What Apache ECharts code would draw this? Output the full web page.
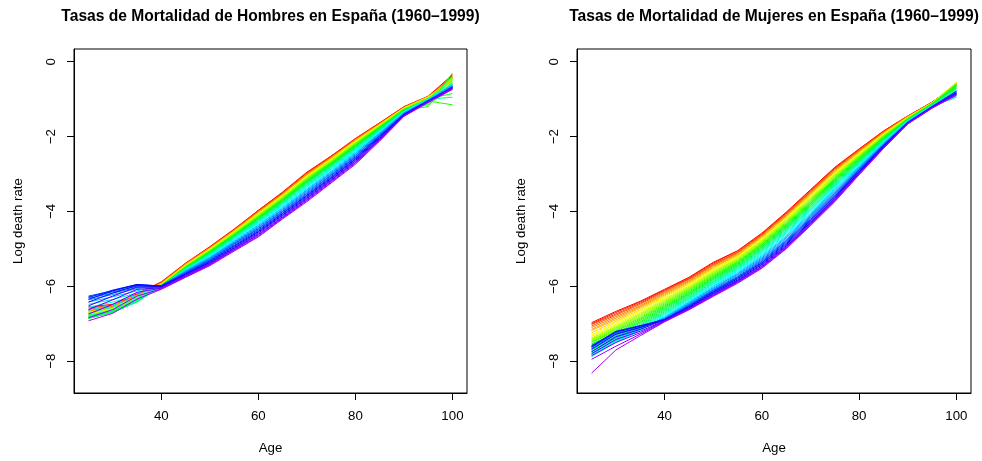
<!DOCTYPE html>
<html>
<head>
<meta charset="utf-8">
<script src="https://cdn.jsdelivr.net/npm/echarts@6/dist/echarts.min.js"></script>
<style>
  html, body { margin: 0; padding: 0; background: #fff; }
  #chart { width: 982px; height: 461px; }
</style>
</head>
<body>
<div id="chart"></div>
<script>
// Ages at which each yearly curve is sampled
const ages = [25, 30, 35, 40, 45, 50, 55, 60, 65, 70, 75, 80, 85, 90, 95, 100];

// Calendar years (one curve each)
const years = [];
for (let y = 1960; y <= 1999; y++) years.push(y);

// Tick labels
const xTicks = [40, 60, 80, 100];
const yTicks = [0, -2, -4, -6, -8];

// Log death rates, men (rows: 1960..1999, columns: ages)
const hombres = [
  [-6.55,-6.48,-6.20,-5.88,-5.38,-4.94,-4.47,-3.97,-3.48,-2.95,-2.52,-2.05,-1.63,-1.20,-0.92,-0.35],
  [-6.62,-6.52,-6.22,-5.90,-5.40,-4.95,-4.49,-3.97,-3.50,-2.97,-2.52,-2.07,-1.64,-1.21,-0.94,-0.42],
  [-6.58,-6.50,-6.24,-5.89,-5.39,-4.96,-4.48,-3.99,-3.50,-2.97,-2.54,-2.06,-1.65,-1.21,-0.93,-0.38],
  [-6.64,-6.55,-6.23,-5.92,-5.41,-4.97,-4.50,-4.00,-3.52,-3.00,-2.55,-2.08,-1.65,-1.22,-0.94,-0.45],
  [-6.68,-6.53,-6.26,-5.91,-5.40,-4.97,-4.51,-4.01,-3.53,-3.00,-2.56,-2.09,-1.66,-1.22,-0.95,-0.40],
  [-6.66,-6.56,-6.25,-5.92,-5.42,-4.98,-4.51,-4.02,-3.54,-3.02,-2.57,-2.10,-1.67,-1.23,-0.93,-0.48],
  [-6.70,-6.57,-6.27,-5.93,-5.43,-4.99,-4.53,-4.04,-3.55,-3.03,-2.58,-2.10,-1.67,-1.23,-0.95,-0.44],
  [-6.72,-6.56,-6.28,-5.93,-5.43,-5.00,-4.53,-4.04,-3.57,-3.05,-2.60,-2.12,-1.68,-1.24,-0.94,-0.52],
  [-6.69,-6.58,-6.27,-5.95,-5.44,-5.00,-4.55,-4.06,-3.57,-3.05,-2.60,-2.13,-1.69,-1.24,-0.96,-0.46],
  [-6.74,-6.60,-6.29,-5.94,-5.45,-5.02,-4.55,-4.07,-3.59,-3.07,-2.62,-2.14,-1.69,-1.25,-0.95,-0.55],
  [-6.72,-6.59,-6.30,-5.95,-5.45,-5.02,-4.56,-4.08,-3.60,-3.08,-2.63,-2.15,-1.70,-1.25,-0.95,-0.50],
  [-6.76,-6.62,-6.31,-5.96,-5.46,-5.03,-4.57,-4.09,-3.61,-3.10,-2.64,-2.16,-1.71,-1.25,-0.97,-0.58],
  [-6.78,-6.63,-6.33,-5.96,-5.47,-5.04,-4.59,-4.11,-3.63,-3.11,-2.66,-2.18,-1.72,-1.26,-0.96,-0.45],
  [-6.77,-6.65,-6.34,-5.97,-5.48,-5.05,-4.60,-4.12,-3.64,-3.13,-2.67,-2.19,-1.73,-1.27,-0.98,-0.62],
  [-6.80,-6.64,-6.35,-5.97,-5.48,-5.06,-4.60,-4.14,-3.66,-3.14,-2.69,-2.20,-1.74,-1.27,-1.02,-0.40],
  [-6.82,-6.66,-6.36,-5.98,-5.49,-5.07,-4.62,-4.15,-3.67,-3.16,-2.70,-2.22,-1.75,-1.28,-1.15,-0.70],
  [-6.81,-6.68,-6.38,-5.98,-5.50,-5.08,-4.63,-4.16,-3.69,-3.18,-2.72,-2.23,-1.76,-1.28,-1.05,-1.15],
  [-6.84,-6.67,-6.39,-5.99,-5.50,-5.09,-4.64,-4.18,-3.70,-3.19,-2.73,-2.25,-1.77,-1.29,-1.20,-0.30],
  [-6.86,-6.69,-6.40,-5.99,-5.51,-5.10,-4.65,-4.19,-3.72,-3.21,-2.75,-2.26,-1.78,-1.30,-0.99,-0.85],
  [-6.85,-6.70,-6.41,-6.00,-5.52,-5.11,-4.66,-4.21,-3.73,-3.22,-2.76,-2.28,-1.79,-1.30,-1.12,-0.55],
  [-6.84,-6.70,-6.42,-6.00,-5.52,-5.12,-4.67,-4.22,-3.75,-3.24,-2.78,-2.29,-1.80,-1.31,-0.99,-0.60],
  [-6.82,-6.68,-6.40,-6.01,-5.53,-5.13,-4.69,-4.24,-3.77,-3.26,-2.80,-2.31,-1.81,-1.32,-1.00,-0.95],
  [-6.78,-6.64,-6.38,-6.00,-5.54,-5.15,-4.70,-4.26,-3.79,-3.29,-2.82,-2.33,-1.83,-1.32,-1.01,-0.50],
  [-6.72,-6.56,-6.34,-6.01,-5.54,-5.16,-4.72,-4.28,-3.82,-3.31,-2.85,-2.35,-1.84,-1.33,-0.99,-0.62],
  [-6.64,-6.50,-6.30,-6.00,-5.55,-5.18,-4.74,-4.30,-3.84,-3.34,-2.87,-2.37,-1.86,-1.34,-1.01,-0.58],
  [-6.56,-6.42,-6.24,-6.00,-5.56,-5.19,-4.75,-4.32,-3.86,-3.36,-2.89,-2.39,-1.87,-1.35,-1.01,-0.64],
  [-6.48,-6.35,-6.18,-5.99,-5.57,-5.21,-4.78,-4.35,-3.89,-3.39,-2.92,-2.41,-1.89,-1.36,-1.02,-0.60],
  [-6.42,-6.28,-6.12,-5.99,-5.58,-5.23,-4.80,-4.37,-3.91,-3.42,-2.94,-2.44,-1.91,-1.37,-1.02,-0.66],
  [-6.36,-6.22,-6.06,-5.98,-5.60,-5.24,-4.82,-4.40,-3.94,-3.44,-2.97,-2.46,-1.92,-1.37,-1.03,-0.63],
  [-6.32,-6.18,-6.03,-5.98,-5.61,-5.26,-4.84,-4.42,-3.96,-3.47,-2.99,-2.49,-1.94,-1.38,-1.03,-0.68],
  [-6.28,-6.15,-6.00,-5.98,-5.62,-5.28,-4.86,-4.45,-3.99,-3.50,-3.02,-2.51,-1.96,-1.39,-1.04,-0.66],
  [-6.26,-6.12,-5.97,-5.99,-5.64,-5.30,-4.88,-4.47,-4.01,-3.53,-3.04,-2.54,-1.98,-1.40,-1.04,-0.70],
  [-6.30,-6.10,-5.95,-5.99,-5.65,-5.32,-4.91,-4.50,-4.04,-3.56,-3.07,-2.56,-1.99,-1.40,-1.05,-0.67],
  [-6.35,-6.12,-5.95,-6.00,-5.67,-5.34,-4.93,-4.53,-4.06,-3.58,-3.10,-2.59,-2.01,-1.41,-1.05,-0.71],
  [-6.42,-6.18,-5.98,-6.01,-5.68,-5.36,-4.96,-4.55,-4.09,-3.61,-3.12,-2.61,-2.03,-1.42,-1.06,-0.69],
  [-6.52,-6.26,-6.02,-6.02,-5.70,-5.38,-4.98,-4.58,-4.11,-3.64,-3.15,-2.64,-2.05,-1.43,-1.07,-0.72],
  [-6.62,-6.36,-6.08,-6.04,-5.72,-5.40,-5.00,-4.61,-4.14,-3.66,-3.17,-2.66,-2.07,-1.44,-1.07,-0.68],
  [-6.74,-6.48,-6.16,-6.05,-5.73,-5.41,-5.02,-4.63,-4.16,-3.69,-3.19,-2.69,-2.08,-1.45,-1.08,-0.73],
  [-6.84,-6.62,-6.26,-6.07,-5.75,-5.43,-5.04,-4.66,-4.18,-3.71,-3.22,-2.71,-2.10,-1.45,-1.08,-0.70],
  [-6.92,-6.72,-6.34,-6.08,-5.76,-5.45,-5.06,-4.68,-4.20,-3.74,-3.24,-2.74,-2.12,-1.46,-1.09,-0.74]
];

// Log death rates, women (rows: 1960..1999, columns: ages)
const mujeres = [
  [-6.97,-6.67,-6.40,-6.08,-5.76,-5.36,-5.05,-4.58,-4.02,-3.42,-2.82,-2.33,-1.85,-1.45,-1.08,-0.62],
  [-7.00,-6.70,-6.42,-6.10,-5.78,-5.38,-5.06,-4.60,-4.04,-3.44,-2.84,-2.34,-1.86,-1.45,-1.09,-0.65],
  [-7.02,-6.74,-6.45,-6.12,-5.80,-5.41,-5.09,-4.62,-4.06,-3.46,-2.86,-2.36,-1.87,-1.46,-1.08,-0.60],
  [-7.06,-6.77,-6.48,-6.14,-5.82,-5.43,-5.10,-4.63,-4.08,-3.48,-2.87,-2.37,-1.88,-1.46,-1.10,-0.64],
  [-7.10,-6.81,-6.52,-6.17,-5.85,-5.45,-5.12,-4.65,-4.10,-3.50,-2.89,-2.38,-1.89,-1.47,-1.09,-0.58],
  [-7.15,-6.85,-6.55,-6.20,-5.88,-5.48,-5.15,-4.67,-4.12,-3.52,-2.91,-2.40,-1.90,-1.47,-1.10,-0.60],
  [-7.18,-6.89,-6.58,-6.23,-5.90,-5.50,-5.17,-4.69,-4.14,-3.54,-2.93,-2.42,-1.91,-1.48,-1.10,-0.56],
  [-7.24,-6.93,-6.62,-6.26,-5.93,-5.53,-5.19,-4.71,-4.16,-3.56,-2.95,-2.43,-1.92,-1.48,-1.11,-0.62],
  [-7.30,-6.97,-6.65,-6.29,-5.95,-5.55,-5.21,-4.73,-4.18,-3.58,-2.97,-2.45,-1.93,-1.49,-1.10,-0.55],
  [-7.34,-7.01,-6.69,-6.32,-5.98,-5.58,-5.23,-4.75,-4.20,-3.61,-2.99,-2.46,-1.95,-1.49,-1.11,-0.60],
  [-7.38,-7.05,-6.72,-6.35,-6.00,-5.60,-5.25,-4.77,-4.22,-3.63,-3.01,-2.48,-1.96,-1.50,-1.10,-0.58],
  [-7.40,-7.08,-6.75,-6.38,-6.03,-5.62,-5.27,-4.79,-4.24,-3.65,-3.03,-2.50,-1.97,-1.50,-1.11,-0.62],
  [-7.43,-7.11,-6.78,-6.41,-6.05,-5.65,-5.29,-4.81,-4.27,-3.68,-3.05,-2.52,-1.98,-1.51,-1.12,-0.57],
  [-7.45,-7.14,-6.82,-6.44,-6.08,-5.67,-5.32,-4.84,-4.29,-3.70,-3.08,-2.53,-1.99,-1.52,-1.11,-0.63],
  [-7.48,-7.17,-6.85,-6.47,-6.10,-5.70,-5.34,-4.86,-4.32,-3.73,-3.10,-2.55,-2.01,-1.52,-1.12,-0.60],
  [-7.50,-7.20,-6.88,-6.50,-6.13,-5.72,-5.36,-4.88,-4.34,-3.75,-3.12,-2.57,-2.02,-1.53,-1.12,-0.65],
  [-7.54,-7.24,-6.91,-6.53,-6.16,-5.75,-5.38,-4.90,-4.36,-3.78,-3.14,-2.59,-2.03,-1.54,-1.13,-0.68],
  [-7.57,-7.27,-6.95,-6.56,-6.19,-5.77,-5.41,-4.93,-4.39,-3.80,-3.17,-2.61,-2.05,-1.54,-1.14,-0.62],
  [-7.60,-7.31,-6.98,-6.59,-6.21,-5.80,-5.43,-4.95,-4.41,-3.83,-3.19,-2.63,-2.06,-1.55,-1.13,-0.70],
  [-7.66,-7.35,-7.02,-6.62,-6.24,-5.82,-5.46,-4.98,-4.44,-3.85,-3.22,-2.65,-2.07,-1.55,-1.15,-0.66],
  [-7.70,-7.38,-7.05,-6.65,-6.27,-5.85,-5.48,-5.00,-4.46,-3.88,-3.24,-2.67,-2.09,-1.56,-1.15,-0.72],
  [-7.74,-7.41,-7.08,-6.68,-6.30,-5.88,-5.50,-5.03,-4.49,-3.91,-3.27,-2.69,-2.10,-1.57,-1.16,-0.76],
  [-7.78,-7.44,-7.11,-6.71,-6.32,-5.90,-5.53,-5.06,-4.52,-3.94,-3.30,-2.71,-2.12,-1.57,-1.17,-0.80],
  [-7.82,-7.47,-7.14,-6.74,-6.35,-5.93,-5.55,-5.09,-4.55,-3.96,-3.32,-2.73,-2.13,-1.58,-1.17,-0.88],
  [-7.86,-7.49,-7.16,-6.77,-6.37,-5.95,-5.58,-5.12,-4.58,-3.99,-3.35,-2.75,-2.15,-1.58,-1.18,-0.92],
  [-7.88,-7.50,-7.18,-6.80,-6.40,-5.98,-5.60,-5.15,-4.61,-4.02,-3.38,-2.77,-2.16,-1.59,-1.18,-0.85],
  [-7.80,-7.44,-7.16,-6.82,-6.42,-6.00,-5.63,-5.18,-4.65,-4.05,-3.41,-2.79,-2.17,-1.60,-1.19,-0.95],
  [-7.74,-7.38,-7.14,-6.84,-6.44,-6.03,-5.66,-5.21,-4.68,-4.08,-3.44,-2.81,-2.18,-1.60,-1.19,-0.82],
  [-7.68,-7.33,-7.12,-6.85,-6.46,-6.05,-5.68,-5.24,-4.71,-4.11,-3.47,-2.83,-2.20,-1.61,-1.20,-0.90],
  [-7.64,-7.28,-7.10,-6.87,-6.48,-6.08,-5.71,-5.27,-4.75,-4.14,-3.50,-2.85,-2.21,-1.61,-1.19,-0.78],
  [-7.62,-7.25,-7.10,-6.88,-6.50,-6.10,-5.74,-5.30,-4.78,-4.17,-3.52,-2.87,-2.22,-1.62,-1.20,-0.80],
  [-7.58,-7.22,-7.07,-6.88,-6.52,-6.12,-5.76,-5.33,-4.80,-4.20,-3.55,-2.89,-2.23,-1.62,-1.21,-0.84],
  [-7.60,-7.20,-7.05,-6.89,-6.53,-6.14,-5.78,-5.36,-4.83,-4.22,-3.58,-2.91,-2.24,-1.63,-1.20,-0.79],
  [-7.62,-7.22,-7.06,-6.89,-6.55,-6.16,-5.80,-5.38,-4.86,-4.25,-3.60,-2.93,-2.25,-1.63,-1.21,-0.83],
  [-7.68,-7.28,-7.10,-6.90,-6.57,-6.18,-5.83,-5.41,-4.89,-4.28,-3.63,-2.95,-2.27,-1.64,-1.22,-0.86],
  [-7.75,-7.35,-7.15,-6.90,-6.58,-6.20,-5.85,-5.43,-4.92,-4.30,-3.65,-2.96,-2.28,-1.64,-1.22,-0.85],
  [-7.80,-7.42,-7.20,-6.92,-6.60,-6.22,-5.87,-5.46,-4.94,-4.32,-3.68,-2.98,-2.29,-1.65,-1.23,-0.88],
  [-7.85,-7.50,-7.24,-6.93,-6.61,-6.24,-5.88,-5.48,-4.96,-4.34,-3.70,-2.99,-2.30,-1.65,-1.23,-0.86],
  [-7.95,-7.60,-7.28,-6.94,-6.62,-6.25,-5.90,-5.50,-4.98,-4.36,-3.72,-3.01,-2.31,-1.66,-1.24,-0.89],
  [-8.32,-7.70,-7.32,-6.95,-6.63,-6.27,-5.92,-5.52,-5.00,-4.38,-3.74,-3.02,-2.32,-1.66,-1.24,-0.88]
];

const FONT = '"Liberation Sans", Arial, Helvetica, sans-serif';
const AXIS_FONT = 13.3;
const TITLE_FONT = 15.6;

// Rainbow palette: hue runs from red toward violet across the years
function yearColor(i) {
  const hue = (i / (years.length * 1.25)) * 360;
  return 'hsl(' + hue.toFixed(1) + ',100%,50%)';
}

const panels = [
  { title: 'Tasas de Mortalidad de Hombres en España (1960–1999)', rows: hombres, left: 74, width: 393 },
  { title: 'Tasas de Mortalidad de Mujeres en España (1960–1999)', rows: mujeres, left: 577, width: 394 }
];

const grid = [], xAxis = [], yAxis = [], series = [], graphic = [];
const axisStroke = { color: '#000', width: 1 };

panels.forEach((p, k) => {
  grid.push({
    left: p.left, top: 49, width: p.width, height: 344,
    show: true, borderColor: '#000', borderWidth: 1, backgroundColor: 'transparent'
  });
  xAxis.push({
    type: 'value', gridIndex: k, min: 22, max: 103, position: 'bottom',
    name: 'Age', nameLocation: 'middle', nameGap: 49,
    nameTextStyle: { fontFamily: FONT, fontSize: AXIS_FONT, color: '#000' },
    axisLine: { show: true, onZero: false, lineStyle: axisStroke },
    splitLine: { show: false },
    axisTick: { show: true, inside: false, length: 7, customValues: xTicks, lineStyle: axisStroke },
    axisLabel: { customValues: xTicks, margin: 17, fontFamily: FONT, fontSize: AXIS_FONT, color: '#000' }
  });
  yAxis.push({
    type: 'value', gridIndex: k, min: -8.85, max: 0.34, position: 'left',
    name: 'Log death rate', nameLocation: 'middle', nameGap: 49, nameRotate: 90,
    nameTextStyle: { fontFamily: FONT, fontSize: AXIS_FONT, color: '#000' },
    axisLine: { show: true, onZero: false, lineStyle: axisStroke },
    splitLine: { show: false },
    axisTick: { show: true, inside: false, length: 7, customValues: yTicks, lineStyle: axisStroke },
    axisLabel: {
      customValues: yTicks, rotate: 90, margin: 16, fontFamily: FONT, fontSize: AXIS_FONT, color: '#000',
      formatter: v => (v < 0 ? '\u2212' + Math.abs(v) : String(v))
    }
  });
  p.rows.forEach((row, i) => {
    series.push({
      type: 'line', name: String(years[i]),
      xAxisIndex: k, yAxisIndex: k,
      data: ages.map((a, j) => [a, row[j]]),
      symbol: 'none', silent: true,
      lineStyle: { width: 1, color: yearColor(i) },
      emphasis: { disabled: true }
    });
  });
  graphic.push({
    type: 'text', x: p.left + p.width / 2, y: 17,
    style: {
      text: p.title, fontFamily: FONT, fontSize: TITLE_FONT, fontWeight: 'bold', fill: '#000',
      textAlign: 'center', textVerticalAlign: 'middle'
    }
  });
});

const chart = echarts.init(document.getElementById('chart'), null, { renderer: 'canvas' });
chart.setOption({
  animation: false,
  backgroundColor: '#fff',
  grid, xAxis, yAxis, series, graphic
});
</script>
</body>
</html>
